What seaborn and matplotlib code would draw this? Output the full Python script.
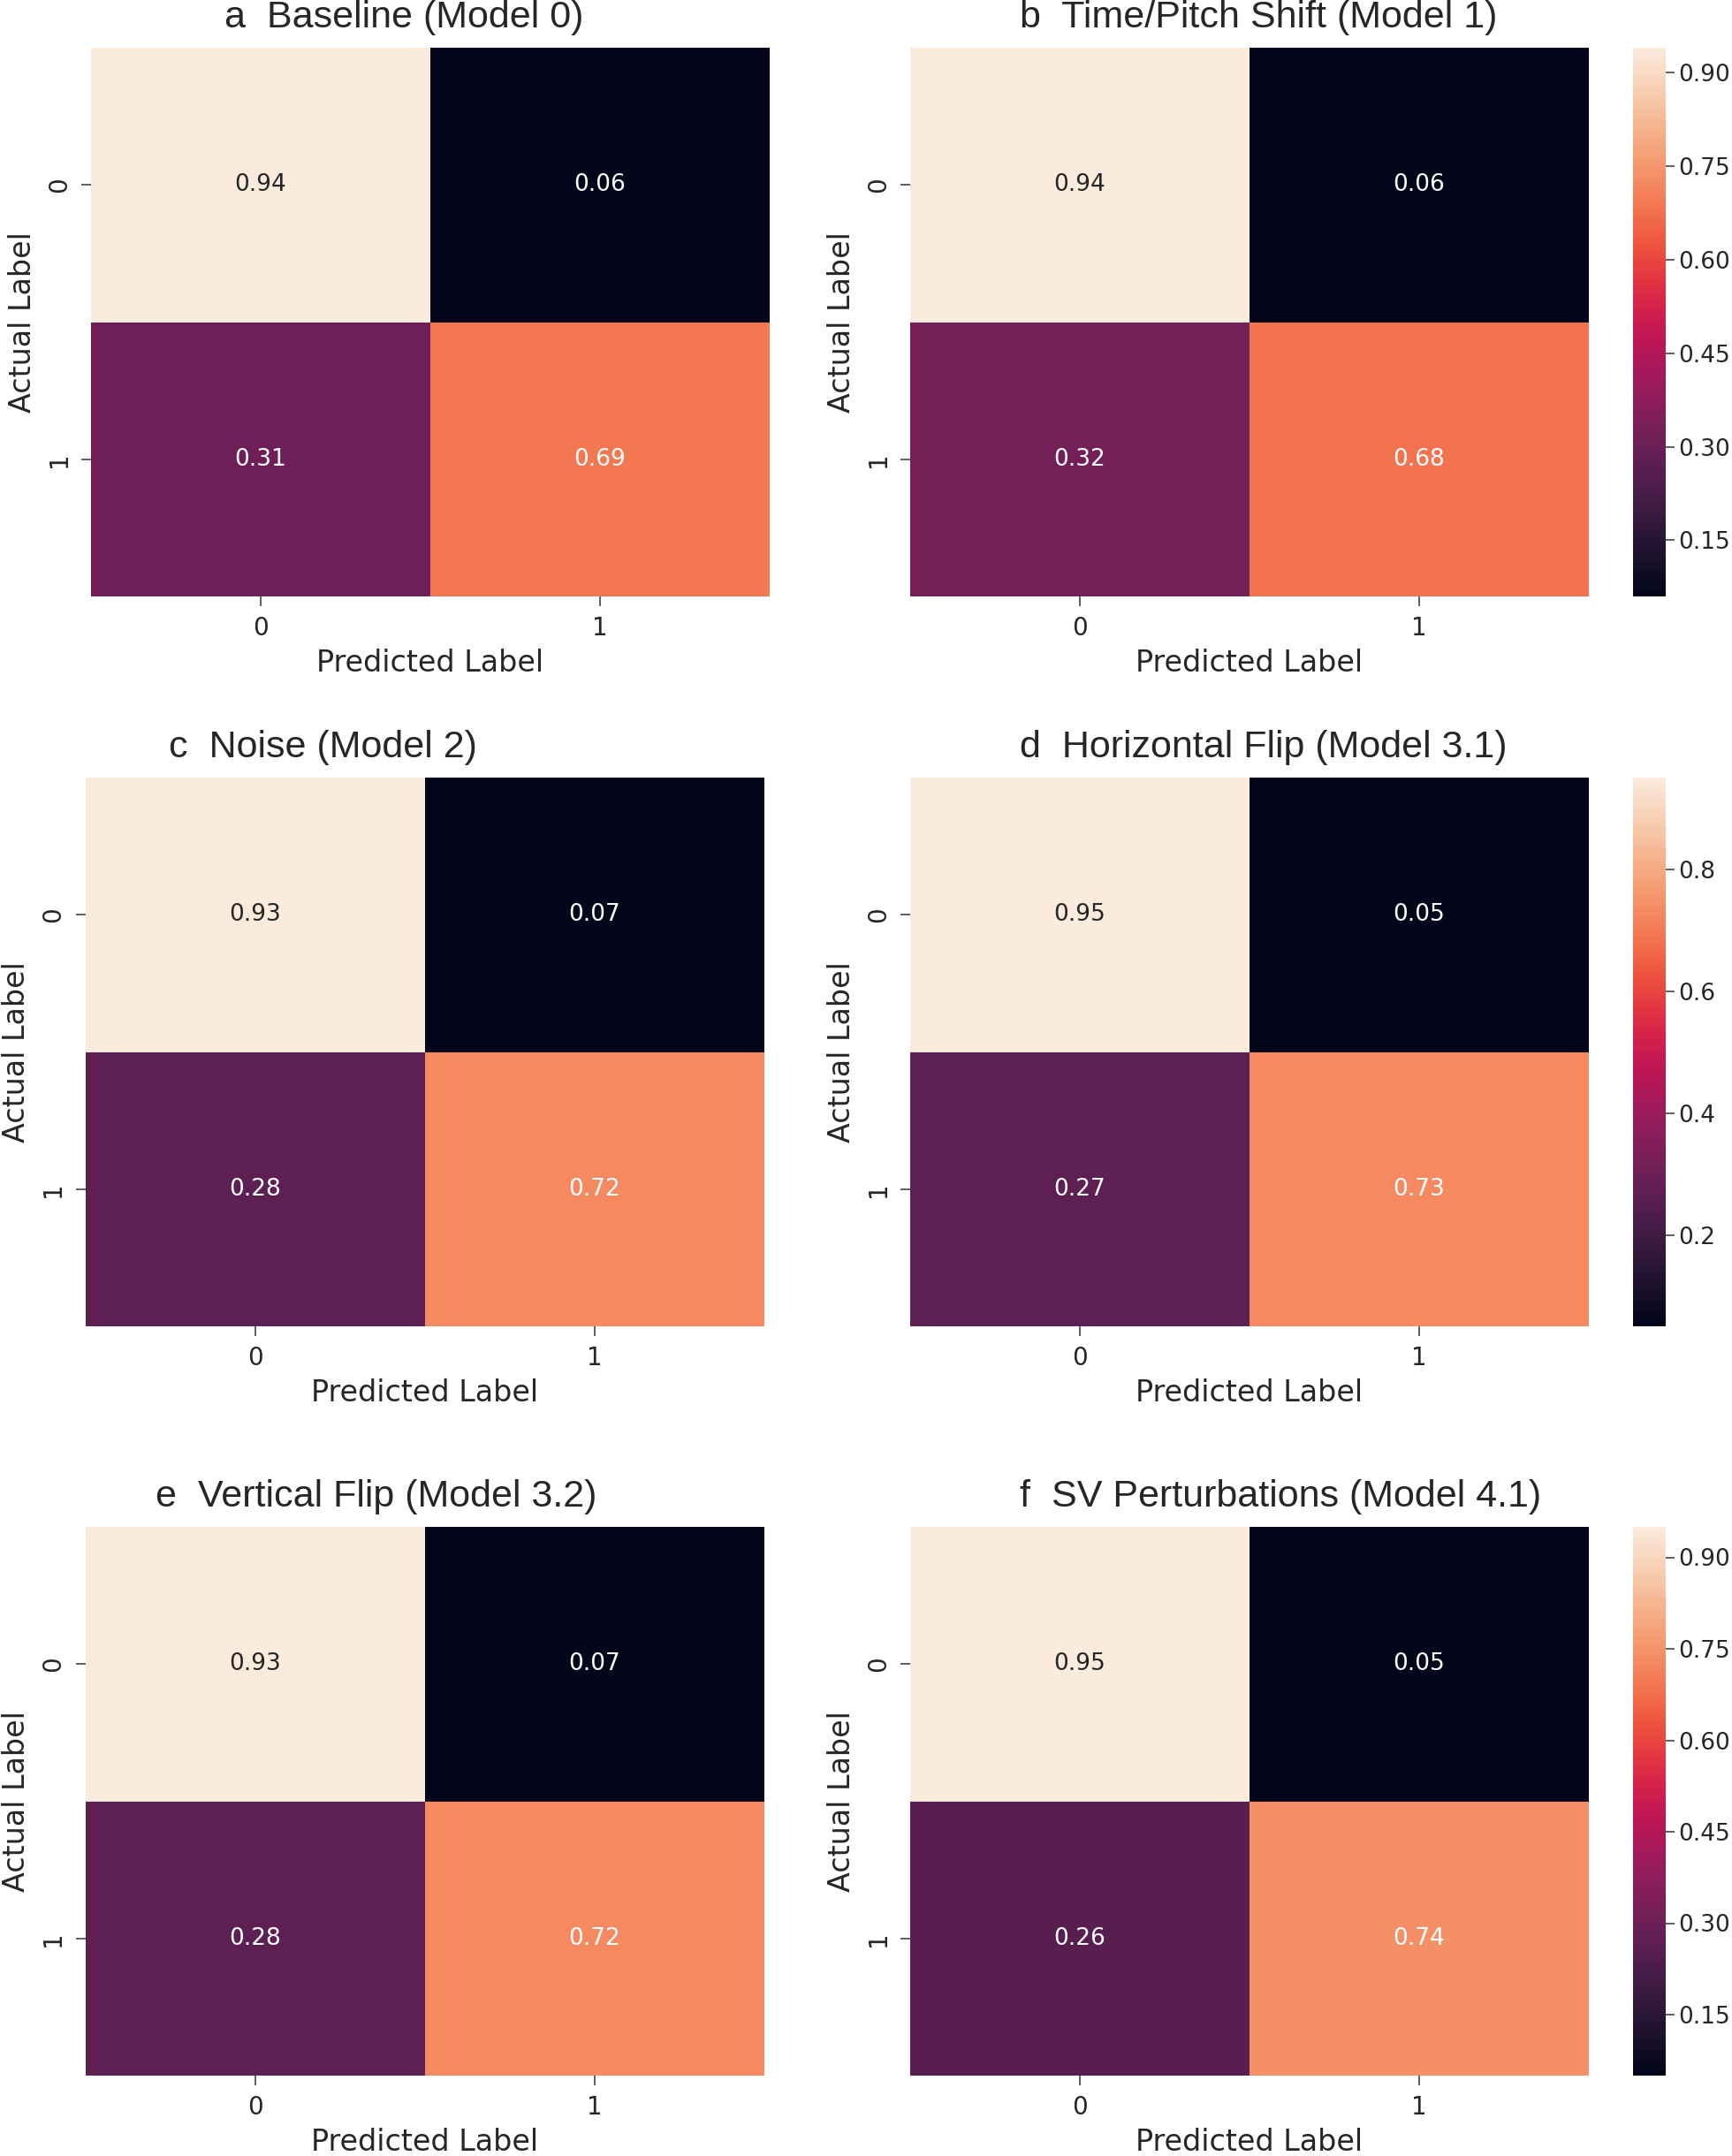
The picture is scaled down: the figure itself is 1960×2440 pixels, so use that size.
import numpy as np
import matplotlib.pyplot as plt
import seaborn as sns

# Confusion matrices (normalised)
class_labels = ['0', '1']
titles = ['a  Baseline (Model 0)', 'b  Time/Pitch Shift (Model 1)',
          'c  Noise (Model 2)', 'd  Horizontal Flip (Model 3.1)',
          'e  Vertical Flip (Model 3.2)', 'f  SV Perturbations (Model 4.1)']
cm_a = [[0.94, 0.06], [0.31, 0.69]]
cm_b = [[0.94, 0.06], [0.32, 0.68]]
cm_c = [[0.93, 0.07], [0.28, 0.72]]
cm_d = [[0.95, 0.05], [0.27, 0.73]]
cm_e = [[0.93, 0.07], [0.28, 0.72]]
cm_f = [[0.95, 0.05], [0.26, 0.74]]
cbar_ticks_b = [0.15, 0.30, 0.45, 0.60, 0.75, 0.90]
cbar_ticks_d = [0.2, 0.4, 0.6, 0.8]
cbar_ticks_f = [0.15, 0.30, 0.45, 0.60, 0.75, 0.90]

matrices = [cm_a, cm_b, cm_c, cm_d, cm_e, cm_f]
cbar_ticks = [None, cbar_ticks_b, None, cbar_ticks_d, None, cbar_ticks_f]

sns.set_theme(style='white')
plt.rcParams['font.family'] = ['DejaVu Sans']

W, H = 1960, 2440
fig = plt.figure(figsize=(W / 100, H / 100), dpi=100)

def box(x0, y0, x1, y1):
    return [x0 / W, 1 - y1 / H, (x1 - x0) / W, (y1 - y0) / H]

rows = [(54, 675), (880, 1501), (1728, 2349)]
left_x = [(103, 871), (96.5, 865), (96.5, 865)]
right_x = (1030, 1798)
cbar_x = (1848, 1885)
title_x = [0.196, 0.162, 0.123, 0.162, 0.103, 0.162]

for i, cm in enumerate(matrices):
    r, c = divmod(i, 2)
    top, bot = rows[r]
    x0, x1 = left_x[r] if c == 0 else right_x
    ax = fig.add_axes(box(x0, top, x1, bot))
    df = np.array(cm)
    if c == 1:
        cax = fig.add_axes(box(cbar_x[0], top, cbar_x[1], bot))
        sns.heatmap(df, annot=True, fmt='.2f', cmap='rocket', ax=ax, cbar_ax=cax,
                    cbar_kws={'ticks': cbar_ticks[i]},
                    annot_kws={'size': 19},
                    xticklabels=class_labels, yticklabels=class_labels)
        cax.tick_params(labelsize=19, length=7, width=1.2, color='#444', pad=3)
    else:
        sns.heatmap(df, annot=True, fmt='.2f', cmap='rocket', ax=ax, cbar=False,
                    annot_kws={'size': 19},
                    xticklabels=class_labels, yticklabels=class_labels)
    ax.tick_params(left=True, bottom=True, length=8, width=1.2, color='#444',
                   labelsize=20, pad=8)
    ax.set_yticklabels(class_labels, rotation=90, va='center')
    ax.set_xticklabels(class_labels, rotation=0)
    ax.set_xlabel('Predicted Label', fontsize=24, labelpad=6)
    ax.set_ylabel('Actual Label', fontsize=24, labelpad=8)
    ax.text(title_x[i], 1.022, titles[i], transform=ax.transAxes,
            ha='left', va='bottom', fontsize=31,
            family=['Liberation Sans', 'DejaVu Sans'])

plt.savefig('out.png', dpi=100)
